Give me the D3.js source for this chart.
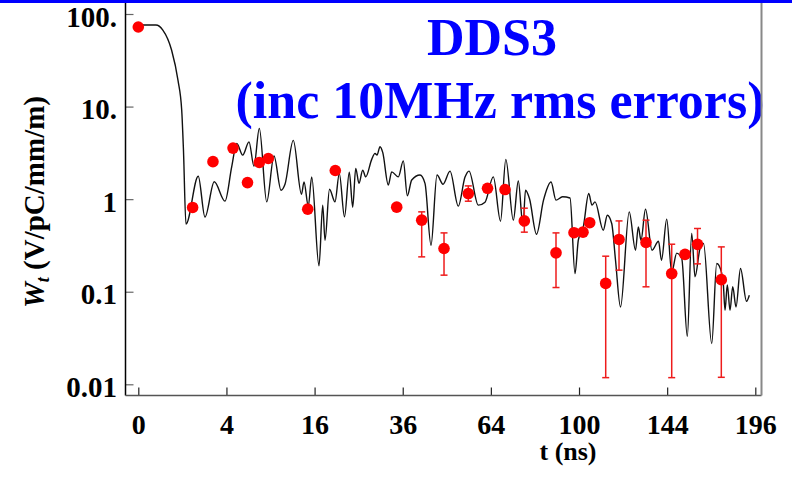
<!DOCTYPE html>
<html>
<head>
<meta charset="utf-8">
<script src="https://cdn.jsdelivr.net/npm/d3@7"></script>
<style>
  body { margin: 0; background: #fff; }
  text { font-family: "Liberation Serif", "Times New Roman", serif; font-weight: bold; }
</style>
</head>
<body>
<div id="chart"></div>
<script>
// wake potential trace (t in ns, W in V/pC/mm/m)
var lineT = [0, 0.16, 0.31, 0.57, 0.81, 0.97, 1.05, 1.17, 1.85, 2.29,
  2.97, 3.87, 4.49, 4.99, 5.61, 6.31, 6.89, 7.54, 8.49, 9.48,
  10.49, 11.08, 12.37, 13.71, 14.14, 14.88, 15.48, 16.81, 17.51, 17.95,
  18.82, 19.92, 20.80, 21.89, 22.92, 23.67, 24.34, 25.08, 25.93, 26.63,
  28.05, 28.85, 29.34, 30.08, 30.76, 32.18, 33.06, 34.81, 36.16, 37.26,
  38.49, 40.86, 42.32, 44.11, 45.94, 47.80, 50.03, 52.72, 54.96, 56.31,
  59.52, 61.89, 64.89, 67.55, 69.54, 72.41, 74.35, 76.20, 77.19, 78.80,
  81.64, 84.54, 87.70, 89.83, 92.65, 95.96, 98.19, 99.68, 101.96, 104.45,
  105.98, 107.39, 111.33, 113.25, 115.39, 117.25, 119.72, 124.08, 127.28, 128.72,
  130.11, 132.45, 135.87, 139.33, 140.94, 143.76, 146.49, 149.25, 152.04, 155.19,
  157.68, 159.57, 162.45, 164.48, 169.29, 172.25, 175.12, 176.20, 177.23, 178.62,
  180.27, 181.91, 183.94, 186.72, 190.46, 192.22];
var lineW = [76.0, 76.0, 67.1, 40.8, 19.3, 9.17, 3.39, 0.537, 1.77, 0.639,
  1.54, 0.951, 2.23, 4.00, 2.99, 4.16, 2.27, 5.81, 0.935, 2.92,
  1.25, 1.45, 4.31, 1.13, 1.53, 0.840, 1.74, 0.190, 0.861, 0.360,
  1.28, 0.935, 1.90, 0.644, 1.96, 0.820, 2.15, 1.48, 2.06, 1.74,
  2.69, 3.12, 2.99, 3.68, 3.20, 1.42, 1.97, 1.74, 2.59, 1.09,
  1.61, 1.82, 1.48, 0.318, 1.82, 1.45, 2.01, 0.840, 1.73, 2.01,
  0.861, 0.928, 1.74, 0.578, 2.69, 0.593, 1.57, 0.511, 1.25, 1.01,
  0.418, 0.975, 1.53, 0.975, 1.06, 1.03, 0.157, 0.360, 0.502, 1.15,
  0.861, 0.935, 0.462, 0.671, 0.546, 0.219, 0.0685, 0.729, 0.281, 0.502,
  0.360, 0.780, 0.281, 0.351, 0.219, 0.608, 0.162, 0.261, 0.230, 0.0330,
  0.426, 0.145, 0.293, 0.332, 0.0275, 0.202, 0.162, 0.123, 0.0631, 0.118,
  0.0631, 0.113, 0.0685, 0.178, 0.0789, 0.0917];

// measured points with error bars (null = no bar)
var dotT = [0, 1.52, 2.87, 4.62, 6.14, 7.54, 8.70, 14.78, 19.98, 34.38,
  41.35, 48.12, 56.07, 62.79, 69.24, 76.72, 89.83, 97.74, 101.82, 104.91,
  112.48, 118.98, 132.71, 146.49, 153.89, 161.01, 175.00];
var dotW = [72.4, 0.813, 2.54, 3.56, 1.51, 2.49, 2.75, 0.780, 2.04, 0.820,
  0.593, 0.293, 1.15, 1.31, 1.27, 0.582, 0.263, 0.434, 0.440, 0.557,
  0.123, 0.367, 0.340, 0.157, 0.253, 0.325, 0.135];
var errHi = [null, null, null, null, null, null, null, null, null, null,
  0.729, 0.432, 1.39, null, null, 0.799, 0.432, null, null, null,
  0.242, 0.582, 0.593, 0.326, null, 0.482, 0.305];
var errLo = [null, null, null, null, null, null, null, null, null, null,
  0.238, 0.151, 0.95, null, null, 0.440, 0.111, null, null, null,
  0.0118, 0.171, 0.113, 0.0118, null, 0.200, 0.0119];

var xTicks = [0, 4, 16, 36, 64, 100, 144, 196];
var yTicks = [100, 10, 1, 0.1, 0.01];
var yTickLabels = ["100.", "10.", "1", "0.1", "0.01"];

var width = 792, height = 492;
var box = {left: 125.5, right: 761.5, top: 3, bottom: 395.5};

var svg = d3.select("#chart").append("svg")
    .attr("width", width)
    .attr("height", height);

svg.append("rect").attr("width", width).attr("height", height).attr("fill", "#fff");

var x = d3.scaleSqrt().domain([0, 196]).range([138.3, 755.3]);
var y = d3.scaleLog().domain([0.01, 100]).range([384.3, 14]);

// titles
svg.append("text")
    .attr("x", 492).attr("y", 55)
    .attr("text-anchor", "middle")
    .attr("font-size", "52px")
    .attr("fill", "#0000ff")
    .text("DDS3");
svg.append("text")
    .attr("x", 500).attr("y", 118)
    .attr("text-anchor", "middle")
    .attr("font-size", "52px")
    .attr("fill", "#0000ff")
    .text("(inc 10MHz rms errors)");

// y axis
var yAxis = d3.axisLeft(y)
    .tickValues(yTicks)
    .tickSize(-8)
    .tickPadding(8.5)
    .tickFormat(function(d, i) { return yTickLabels[i]; });
var gy = svg.append("g")
    .attr("transform", "translate(" + box.left + ",0)")
    .call(yAxis);
gy.select(".domain").remove();
gy.selectAll(".tick line").attr("stroke", "#666").attr("stroke-width", 1.2);
gy.selectAll(".tick text")
    .attr("font-size", "29px")
    .attr("font-family", "Liberation Serif, serif")
    .attr("font-weight", "bold")
    .attr("fill", "#000")
    .attr("dy", "0.42em");

// x axis
var xAxis = d3.axisBottom(x)
    .tickValues(xTicks)
    .tickSize(-8)
    .tickPadding(18.6)
    .tickFormat(d3.format("d"));
var gx = svg.append("g")
    .attr("transform", "translate(0," + box.bottom + ")")
    .call(xAxis);
gx.select(".domain").remove();
gx.selectAll(".tick line").attr("stroke", "#222").attr("stroke-width", 1.2);
gx.selectAll(".tick text")
    .attr("font-size", "28px")
    .attr("font-family", "Liberation Serif, serif")
    .attr("font-weight", "bold")
    .attr("fill", "#000");

// frame
svg.append("line")
    .attr("x1", box.left).attr("y1", box.top)
    .attr("x2", box.left).attr("y2", box.bottom)
    .attr("stroke", "#000").attr("stroke-width", 1.5);
svg.append("line")
    .attr("x1", box.left).attr("y1", box.bottom)
    .attr("x2", box.right).attr("y2", box.bottom)
    .attr("stroke", "#555").attr("stroke-width", 1.5);
svg.append("line")
    .attr("x1", box.right).attr("y1", box.top)
    .attr("x2", box.right).attr("y2", box.bottom)
    .attr("stroke", "#888").attr("stroke-width", 2);

// top blue rule
svg.append("rect")
    .attr("x", 0).attr("y", 0)
    .attr("width", width).attr("height", 3)
    .attr("fill", "#0000ff");

// axis titles
svg.append("text")
    .attr("x", 568).attr("y", 460)
    .attr("text-anchor", "middle")
    .attr("font-size", "26px")
    .text("t (ns)");

var yt = svg.append("text")
    .attr("transform", "translate(44,202) rotate(-90)")
    .attr("text-anchor", "middle")
    .attr("font-size", "29px");
yt.append("tspan").attr("font-style", "italic").text("W");
yt.append("tspan").attr("font-style", "italic").attr("font-size", "18px").attr("dy", 5).text("t");
yt.append("tspan").attr("dy", -5).text(" (V/pC/mm/m)");

// trace
var lineData = lineT.map(function(t, i) { return {t: t, w: lineW[i]}; });
var lineGen = d3.line()
    .x(function(d) { return x(d.t); })
    .y(function(d) { return y(d.w); })
    .curve(d3.curveMonotoneX);
svg.append("path")
    .datum(lineData)
    .attr("d", lineGen)
    .attr("fill", "none")
    .attr("stroke", "#111")
    .attr("stroke-width", 1.4);

// error bars
var dots = dotT.map(function(t, i) {
    return {t: t, w: dotW[i], hi: errHi[i], lo: errLo[i]};
});
var bars = dots.filter(function(d) { return d.hi != null; });
var eb = svg.append("g").attr("stroke", "#ee1c1c").attr("stroke-width", 1.5);
bars.forEach(function(d) {
    var cx = x(d.t);
    eb.append("line").attr("x1", cx).attr("x2", cx).attr("y1", y(d.hi)).attr("y2", y(d.lo));
    eb.append("line").attr("x1", cx - 3.5).attr("x2", cx + 3.5).attr("y1", y(d.hi)).attr("y2", y(d.hi));
    eb.append("line").attr("x1", cx - 3.5).attr("x2", cx + 3.5).attr("y1", y(d.lo)).attr("y2", y(d.lo));
});

svg.selectAll("circle.pt").data(dots).enter()
    .append("circle")
    .attr("class", "pt")
    .attr("cx", function(d) { return x(d.t); })
    .attr("cy", function(d) { return y(d.w); })
    .attr("r", 5.8)
    .attr("fill", "#ff0000");
</script>
</body>
</html>
